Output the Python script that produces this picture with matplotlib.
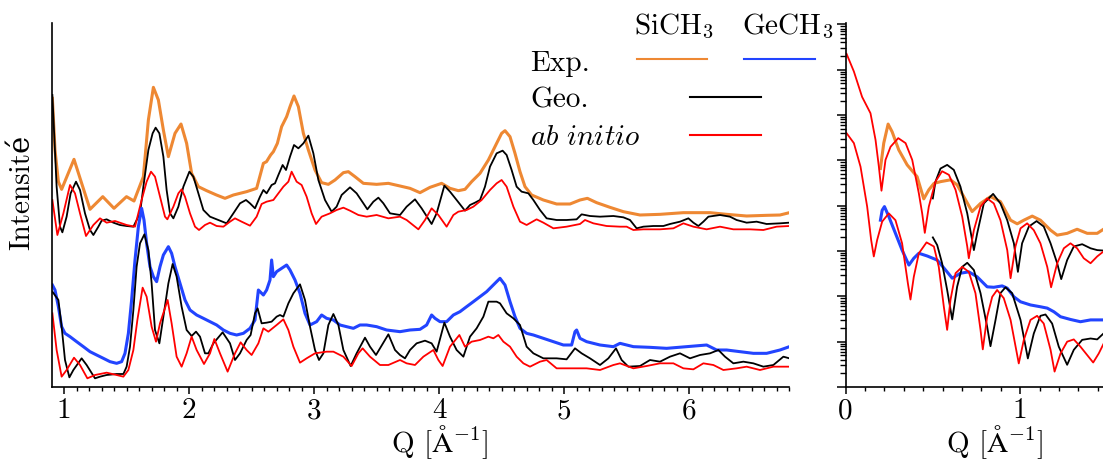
import numpy as np
import matplotlib
matplotlib.use("Agg")
import matplotlib.pyplot as plt
from matplotlib.lines import Line2D
from matplotlib.ticker import MultipleLocator, LogLocator, NullFormatter

plt.rcParams['font.family'] = ['cmr10', 'DejaVu Serif']
plt.rcParams['mathtext.fontset'] = 'cm'
plt.rcParams['axes.unicode_minus'] = False
FS = 21
plt.rcParams['font.size'] = FS

ORANGE = '#EE8833'
BLUE = '#2244FF'
RED = '#FF0000'

# ---- grand Q : intensites decalees (unites arbitraires) ----
si_exp_q = [0.907, 0.928, 0.955, 0.981, 1.08, 1.208, 1.31, 1.40, 1.50, 1.56, 1.635, 1.675, 1.715, 1.755,
            1.795, 1.835, 1.888, 1.936, 1.981, 2.021, 2.075, 2.141, 2.22, 2.288, 2.355, 2.461, 2.541, 2.595,
            2.62, 2.653, 2.675, 2.707, 2.741, 2.781, 2.808, 2.84, 2.875, 2.915, 2.955, 3.008, 3.061, 3.115,
            3.168, 3.235, 3.275, 3.328, 3.395, 3.501, 3.595, 3.688, 3.768, 3.848, 3.928, 4.021, 4.088, 4.155,
            4.208, 4.261, 4.328, 4.395, 4.461, 4.501, 4.528, 4.568, 4.608, 4.648, 4.688, 4.741, 4.835, 4.941,
            5.048, 5.128, 5.187, 5.261, 5.368, 5.475, 5.608, 5.768, 5.955, 6.168, 6.301, 6.461, 6.621, 6.728, 6.803]
si_exp_i = [86.6, 71.1, 61.6, 59.3, 68.3, 53.3, 57.1, 53.6, 57.1, 55.8, 63.1, 80.1, 89.9, 86.1,
            77.1, 69.1, 76.1, 78.9, 73.1, 64.1, 60.1, 58.9, 57.6, 56.6, 57.6, 58.6, 59.6, 67.1,
            67.6, 69.6, 70.6, 73.1, 78.1, 81.1, 84.1, 87.3, 84.1, 76.1, 71.1, 65.1, 61.3, 60.8,
            62.1, 64.3, 64.6, 63.1, 61.1, 60.8, 61.1, 60.3, 59.6, 58.3, 59.9, 61.1, 59.6, 58.9,
            59.3, 61.6, 64.1, 68.1, 73.1, 76.1, 76.9, 75.1, 70.1, 64.6, 60.1, 57.6, 56.1, 54.9,
            54.9, 56.1, 56.6, 55.3, 53.9, 52.6, 51.6, 51.8, 52.3, 52.3, 51.8, 51.3, 51.5, 51.6, 52.3]

si_geo_q = [0.907, 0.941, 0.968, 0.987, 1.021, 1.053, 1.096, 1.128, 1.168, 1.208, 1.235, 1.275, 1.301, 1.341,
            1.395, 1.448, 1.501, 1.555, 1.608, 1.635, 1.675, 1.709, 1.733, 1.763, 1.795, 1.821, 1.848, 1.875,
            1.915, 1.955, 2.003, 2.035, 2.075, 2.115, 2.168, 2.248, 2.301, 2.355, 2.408, 2.456, 2.488, 2.528,
            2.568, 2.595, 2.621, 2.661, 2.688, 2.715, 2.749, 2.776, 2.808, 2.84, 2.875, 2.915, 2.955, 2.995,
            3.035, 3.088, 3.141, 3.181, 3.221, 3.288, 3.341, 3.395, 3.427, 3.475, 3.515, 3.555, 3.608, 3.688,
            3.741, 3.808, 3.861, 3.941, 3.981, 4.043, 4.088, 4.141, 4.208, 4.248, 4.288, 4.328, 4.368, 4.408,
            4.461, 4.509, 4.541, 4.581, 4.621, 4.661, 4.715, 4.755, 4.808, 4.861, 4.941, 5.021, 5.101, 5.141,
            5.208, 5.288, 5.395, 5.475, 5.528, 5.581, 5.635, 5.715, 5.795, 5.848, 5.928, 5.995, 6.035, 6.075,
            6.115, 6.155, 6.248, 6.328, 6.381, 6.461, 6.541, 6.621, 6.728, 6.803]
si_geo_i = [87.6, 60.1, 48.1, 46.4, 51.1, 58.1, 61.6, 59.1, 52.1, 47.1, 45.6, 48.1, 49.9, 50.3,
            49.3, 48.6, 48.3, 48.1, 52.1, 60.1, 71.1, 76.1, 77.8, 76.1, 69.1, 59.1, 52.1, 50.6,
            54.1, 60.1, 64.6, 63.1, 58.1, 53.1, 51.1, 49.9, 49.1, 52.1, 55.1, 56.1, 55.1, 53.6,
            57.1, 59.1, 58.1, 60.6, 61.1, 63.6, 66.6, 65.1, 69.1, 72.6, 71.6, 73.1, 75.4, 70.1,
            62.1, 56.1, 52.6, 54.1, 57.6, 59.9, 58.1, 55.1, 53.3, 55.6, 56.8, 55.1, 52.1, 51.6,
            54.1, 56.3, 53.6, 48.9, 52.1, 60.4, 58.6, 56.1, 52.9, 54.6, 55.3, 56.1, 60.1, 66.1,
            70.1, 70.9, 69.6, 65.1, 60.1, 58.6, 58.1, 56.1, 53.1, 50.6, 50.1, 50.1, 50.3, 51.8,
            51.3, 51.1, 51.3, 50.9, 50.1, 47.6, 48.1, 48.3, 48.3, 48.9, 49.6, 50.6, 49.3, 48.3,
            49.6, 51.1, 51.6, 51.1, 50.1, 49.3, 49.6, 48.9, 49.1, 49.3]

si_abi_q = [0.907, 0.947, 0.995, 1.048, 1.088, 1.128, 1.176, 1.235, 1.288, 1.341, 1.408, 1.501, 1.568, 1.621,
            1.661, 1.696, 1.728, 1.768, 1.808, 1.827, 1.875, 1.915, 1.941, 1.968, 2.008, 2.048, 2.080, 2.128,
            2.168, 2.221, 2.275, 2.328, 2.368, 2.421, 2.488, 2.541, 2.581, 2.621, 2.675, 2.715, 2.755, 2.795,
            2.821, 2.861, 2.901, 2.941, 2.981, 3.016, 3.061, 3.128, 3.181, 3.235, 3.288, 3.355, 3.421, 3.501,
            3.595, 3.688, 3.741, 3.835, 3.888, 3.941, 3.995, 4.061, 4.115, 4.155, 4.221, 4.275, 4.341, 4.408,
            4.461, 4.501, 4.541, 4.595, 4.648, 4.701, 4.781, 4.835, 4.915, 5.021, 5.128, 5.168, 5.235, 5.341,
            5.448, 5.501, 5.555, 5.635, 5.768, 5.875, 5.955, 6.035, 6.141, 6.248, 6.355, 6.488, 6.595, 6.701, 6.803]
si_abi_i = [56.1, 45.6, 52.1, 60.6, 58.1, 52.1, 45.3, 48.6, 50.6, 49.3, 49.8, 48.6, 48.1, 56.1,
            61.6, 64.6, 63.1, 57.1, 51.1, 50.3, 54.1, 58.1, 59.3, 57.1, 52.1, 48.1, 47.1, 48.6,
            49.3, 48.3, 48.1, 49.6, 50.6, 49.6, 48.4, 51.1, 54.9, 55.6, 56.1, 58.1, 60.1, 61.6,
            64.6, 61.6, 60.6, 57.1, 52.1, 48.9, 51.1, 52.1, 53.1, 53.8, 52.9, 51.6, 51.1, 51.6,
            50.6, 51.1, 50.1, 47.3, 50.1, 53.6, 51.6, 48.1, 51.6, 52.6, 53.1, 54.1, 56.1, 59.1,
            61.1, 62.1, 60.1, 54.1, 49.6, 48.6, 50.3, 49.3, 47.6, 48.1, 48.9, 50.1, 49.1, 48.3,
            48.1, 48.1, 47.1, 47.3, 47.3, 47.6, 49.1, 48.1, 47.3, 48.1, 47.3, 47.3, 47.1, 48.1, 48.3]

ge_exp_q = [0.907, 0.928, 0.955, 0.981, 1.008, 1.048, 1.101, 1.155, 1.208, 1.261, 1.315, 1.368, 1.421, 1.461,
            1.488, 1.515, 1.541, 1.568, 1.595, 1.621, 1.640, 1.661, 1.688, 1.715, 1.741, 1.768, 1.795, 1.835,
            1.861, 1.888, 1.928, 1.968, 2.008, 2.061, 2.115, 2.168, 2.221, 2.275, 2.328, 2.381, 2.435, 2.488,
            2.528, 2.555, 2.595, 2.621, 2.648, 2.661, 2.675, 2.701, 2.741, 2.781, 2.808, 2.848, 2.888, 2.928,
            2.968, 3.021, 3.061, 3.101, 3.155, 3.208, 3.261, 3.315, 3.368, 3.421, 3.501, 3.581, 3.688, 3.768,
            3.848, 3.901, 3.941, 3.968, 4.008, 4.061, 4.115, 4.168, 4.221, 4.275, 4.328, 4.381, 4.421, 4.461,
            4.488, 4.528, 4.568, 4.608, 4.648, 4.701, 4.755, 4.835, 4.915, 4.995, 5.061, 5.088, 5.101, 5.128,
            5.181, 5.288, 5.395, 5.448, 5.555, 5.688, 5.821, 5.981, 6.141, 6.221, 6.301, 6.408, 6.515, 6.621,
            6.728, 6.803]
ge_exp_i = [30.6, 29.1, 24.1, 18.1, 16.1, 15.1, 13.6, 12.1, 10.6, 9.6, 8.6, 7.6, 7.1, 7.6,
            10.1, 16.1, 26.1, 38.1, 48.1, 53.6, 50.1, 43.1, 36.1, 33.1, 31.6, 36.1, 39.6, 42.1,
            40.1, 36.1, 31.1, 26.1, 23.1, 21.6, 20.6, 19.6, 18.6, 17.1, 16.1, 15.6, 16.1, 17.6,
            20.1, 29.1, 27.6, 29.1, 32.1, 38.1, 33.1, 34.6, 35.6, 36.6, 35.1, 32.1, 28.1, 22.1,
            18.6, 19.6, 21.6, 20.6, 20.1, 18.6, 18.1, 17.6, 18.6, 18.6, 18.1, 17.1, 16.6, 17.1,
            17.3, 18.6, 21.6, 20.6, 19.6, 19.6, 21.6, 22.6, 24.1, 25.6, 27.1, 28.6, 30.1, 31.6,
            32.6, 30.6, 25.6, 21.1, 17.6, 16.1, 15.6, 14.6, 13.6, 12.6, 12.6, 16.6, 17.1, 14.6,
            13.6, 12.6, 12.1, 13.1, 12.1, 11.9, 11.6, 12.1, 12.6, 11.1, 11.1, 10.6, 10.1, 10.1,
            11.1, 12.1]

ge_geo_q = [0.907, 0.955, 0.981, 1.008, 1.043, 1.075, 1.141, 1.181, 1.248, 1.288, 1.341, 1.421, 1.475, 1.501,
            1.528, 1.555, 1.581, 1.608, 1.643, 1.675, 1.701, 1.728, 1.763, 1.795, 1.835, 1.869, 1.901, 1.941,
            1.981, 2.021, 2.056, 2.088, 2.128, 2.155, 2.195, 2.269, 2.328, 2.368, 2.408, 2.461, 2.493, 2.528,
            2.549, 2.581, 2.621, 2.661, 2.701, 2.728, 2.755, 2.795, 2.835, 2.888, 2.928, 2.968, 3.008, 3.040,
            3.075, 3.115, 3.155, 3.195, 3.235, 3.293, 3.341, 3.408, 3.448, 3.496, 3.595, 3.648, 3.688, 3.728,
            3.768, 3.821, 3.888, 3.941, 3.981, 4.043, 4.088, 4.141, 4.195, 4.248, 4.301, 4.355, 4.395, 4.461,
            4.488, 4.541, 4.595, 4.648, 4.701, 4.755, 4.835, 4.941, 5.021, 5.088, 5.141, 5.208, 5.288, 5.355,
            5.416, 5.461, 5.515, 5.608, 5.688, 5.768, 5.848, 5.928, 6.008, 6.088, 6.168, 6.235, 6.288, 6.355,
            6.435, 6.515, 6.595, 6.675, 6.755, 6.803]
ge_geo_i = [28.6, 26.1, 18.1, 8.1, 2.9, 5.1, 8.6, 6.6, 2.6, 3.1, 3.6, 3.9, 3.9, 6.1,
            12.1, 23.1, 36.1, 43.1, 45.8, 41.1, 31.1, 17.1, 13.1, 21.1, 31.1, 36.9, 33.1, 24.1,
            17.1, 15.3, 16.6, 15.1, 10.1, 10.1, 13.1, 16.4, 13.1, 8.1, 10.1, 14.1, 15.6, 22.1,
            23.6, 19.1, 19.3, 19.6, 21.1, 21.6, 21.1, 25.1, 28.1, 30.8, 26.1, 18.1, 11.1, 8.1,
            10.1, 18.6, 21.9, 18.6, 11.1, 6.3, 10.1, 14.8, 12.1, 9.6, 15.8, 11.1, 9.6, 8.6,
            11.1, 13.1, 13.9, 13.1, 10.6, 19.3, 15.1, 11.1, 9.1, 15.1, 17.6, 21.1, 25.6, 25.6,
            25.1, 22.1, 20.6, 18.6, 12.1, 10.1, 8.6, 8.6, 8.3, 11.6, 10.1, 8.6, 6.6, 8.6,
            11.6, 8.1, 6.1, 6.3, 8.1, 7.6, 9.1, 10.1, 8.6, 9.6, 10.1, 11.1, 9.1, 7.1,
            7.6, 7.1, 6.1, 6.6, 9.1, 8.6]

ge_abi_q = [0.907, 0.941, 0.981, 1.021, 1.080, 1.128, 1.187, 1.248, 1.341, 1.421, 1.475, 1.515, 1.555, 1.587,
            1.629, 1.661, 1.701, 1.736, 1.768, 1.829, 1.861, 1.901, 1.941, 1.981, 2.021, 2.061, 2.120, 2.168,
            2.203, 2.248, 2.309, 2.368, 2.413, 2.461, 2.501, 2.555, 2.595, 2.635, 2.701, 2.755, 2.795, 2.835,
            2.888, 2.941, 3.008, 3.101, 3.155, 3.235, 3.301, 3.355, 3.389, 3.448, 3.528, 3.595, 3.688, 3.741,
            3.808, 3.875, 3.955, 3.995, 4.029, 4.088, 4.163, 4.208, 4.261, 4.328, 4.395, 4.435, 4.475, 4.515,
            4.568, 4.621, 4.675, 4.728, 4.808, 4.861, 4.941, 5.075, 5.181, 5.288, 5.395, 5.448, 5.555, 5.661,
            5.768, 5.875, 5.955, 6.035, 6.115, 6.195, 6.275, 6.381, 6.461, 6.568, 6.675, 6.803]
ge_abi_i = [22.1, 11.1, 3.1, 5.1, 8.8, 6.6, 2.6, 3.6, 4.3, 3.6, 3.1, 5.1, 11.1, 20.1,
            29.8, 27.1, 18.1, 13.6, 19.1, 26.1, 19.1, 9.1, 6.1, 10.1, 15.1, 11.1, 6.9, 10.1,
            14.4, 10.1, 4.6, 10.1, 13.4, 11.1, 9.6, 13.1, 17.6, 16.6, 18.6, 20.3, 17.1, 12.1,
            7.3, 8.6, 10.1, 10.6, 10.6, 9.1, 6.3, 10.1, 11.6, 9.1, 6.6, 6.6, 8.1, 7.1,
            6.6, 9.1, 11.1, 8.1, 6.3, 12.1, 15.6, 12.1, 13.6, 14.1, 15.1, 14.6, 15.6, 13.6,
            12.1, 9.1, 7.1, 6.1, 7.6, 8.1, 5.6, 5.6, 5.6, 5.1, 6.6, 7.1, 5.6, 6.3,
            7.1, 7.1, 5.6, 5.3, 7.1, 6.6, 5.1, 5.6, 6.1, 5.1, 6.1, 6.1]

# ---- petit Q : log10 de l'intensite ----
si_abi_lq = [0.006, 0.048, 0.095, 0.143, 0.172, 0.191, 0.206, 0.229, 0.258, 0.302, 0.344, 0.382, 0.420, 0.439,
             0.454, 0.477, 0.515, 0.553, 0.592, 0.630, 0.668, 0.697, 0.706, 0.735, 0.773, 0.811, 0.849, 0.887,
             0.926, 0.945, 0.973, 1.002, 1.040, 1.078, 1.116, 1.155, 1.177, 1.212, 1.250, 1.288, 1.326, 1.364,
             1.403, 1.441, 1.477]
si_abi_llog = [7.35, 6.96, 6.40, 6.04, 5.45, 4.86, 4.33, 5.01, 5.30, 5.49, 5.38, 5.01, 4.27, 3.83,
               3.40, 3.98, 4.53, 4.76, 4.68, 4.35, 3.76, 3.10, 2.84, 3.46, 3.98, 4.16, 4.05, 3.68,
               3.02, 2.40, 3.10, 3.50, 3.61, 3.46, 3.17, 2.65, 2.20, 2.73, 3.06, 3.17, 3.06, 2.84,
               2.73, 2.88, 2.99]
si_geo_lq = [0.500, 0.515, 0.544, 0.582, 0.620, 0.658, 0.697, 0.725, 0.735, 0.754, 0.792, 0.845, 0.887, 0.926,
             0.964, 0.987, 1.011, 1.050, 1.094, 1.135, 1.174, 1.212, 1.235, 1.269, 1.307, 1.355, 1.403, 1.441, 1.477]
si_geo_llog = [4.16, 4.53, 4.82, 4.90, 4.79, 4.42, 3.83, 3.24, 3.02, 3.39, 4.05, 4.26, 4.05, 3.68,
               3.17, 2.54, 3.17, 3.54, 3.66, 3.54, 3.17, 2.73, 2.38, 2.80, 3.10, 3.15, 3.06, 3.02, 3.01]
si_exp_lq = [0.200, 0.219, 0.244, 0.267, 0.305, 0.353, 0.410, 0.448, 0.477, 0.506, 0.544, 0.601, 0.639, 0.677,
             0.725, 0.773, 0.830, 0.887, 0.945, 0.983, 1.021, 1.069, 1.116, 1.174, 1.212, 1.269, 1.326, 1.384,
             1.441, 1.477]
si_exp_llog = [4.82, 5.38, 5.80, 5.63, 5.23, 4.90, 4.64, 4.15, 4.35, 4.49, 4.53, 4.57, 4.46, 4.20,
               3.87, 4.05, 4.20, 4.09, 3.68, 3.60, 3.68, 3.77, 3.68, 3.46, 3.35, 3.39, 3.48, 3.39,
               3.39, 3.48]
ge_abi_lq = [0.006, 0.048, 0.086, 0.124, 0.147, 0.162, 0.181, 0.210, 0.248, 0.286, 0.324, 0.357, 0.372, 0.391,
             0.420, 0.464, 0.506, 0.534, 0.563, 0.582, 0.601, 0.630, 0.668, 0.706, 0.744, 0.773, 0.786, 0.811,
             0.840, 0.868, 0.906, 0.945, 0.992, 1.021, 1.059, 1.097, 1.135, 1.174, 1.197, 1.231, 1.269, 1.307,
             1.345, 1.418, 1.450, 1.477]
ge_abi_llog = [5.60, 5.38, 4.86, 3.98, 3.24, 2.88, 3.24, 3.65, 3.83, 3.68, 3.17, 2.29, 1.93, 2.43,
               2.95, 3.19, 3.10, 2.65, 1.77, 1.26, 1.92, 2.51, 2.65, 2.54, 2.07, 1.26, 0.83, 1.55,
               1.99, 2.14, 1.96, 1.48, 0.52, 1.04, 1.48, 1.57, 1.40, 0.82, 0.34, 0.74, 1.00, 1.05,
               0.89, 0.54, 0.74, 0.95]
ge_geo_lq = [0.500, 0.525, 0.553, 0.582, 0.611, 0.639, 0.668, 0.697, 0.735, 0.773, 0.811, 0.830, 0.859, 0.887,
             0.916, 0.954, 1.002, 1.044, 1.078, 1.116, 1.145, 1.183, 1.221, 1.269, 1.307, 1.355, 1.403, 1.441, 1.477]
ge_geo_llog = [3.30, 3.13, 2.73, 2.14, 1.49, 2.21, 2.65, 2.74, 2.58, 2.07, 1.33, 0.90, 1.48, 2.07,
               2.20, 2.07, 1.48, 0.63, 1.18, 1.57, 1.60, 1.40, 0.89, 0.49, 0.82, 1.04, 1.07, 1.05, 1.18]
ge_exp_lq = [0.200, 0.210, 0.223, 0.248, 0.286, 0.324, 0.363, 0.391, 0.420, 0.468, 0.525, 0.573, 0.611, 0.658,
             0.706, 0.754, 0.811, 0.849, 0.897, 0.926, 0.964, 1.002, 1.059, 1.116, 1.155, 1.193, 1.231, 1.288,
             1.345, 1.403, 1.477]
ge_exp_llog = [3.68, 3.90, 3.98, 3.76, 3.39, 3.02, 2.69, 2.84, 2.95, 2.89, 2.80, 2.58, 2.40, 2.51,
               2.54, 2.43, 2.21, 2.20, 2.23, 2.18, 1.99, 1.88, 1.81, 1.77, 1.74, 1.66, 1.55, 1.49,
               1.44, 1.48, 1.48]

fig = plt.figure(figsize=(11.03, 4.59), dpi=100)
ax1 = fig.add_axes([52 / 1103, 72 / 459, 737 / 1103, 364 / 459])
ax2 = fig.add_axes([845.5 / 1103, 72 / 459, 262 / 1103, 364 / 459])

lw = 1.3
lw_exp = 2.2
ax1.plot(si_exp_q, si_exp_i, color=ORANGE, lw=lw_exp)
ax1.plot(si_geo_q, si_geo_i, color='black', lw=lw)
ax1.plot(si_abi_q, si_abi_i, color=RED, lw=lw)
ax1.plot(ge_exp_q, ge_exp_i, color=BLUE, lw=lw_exp)
ax1.plot(ge_geo_q, ge_geo_i, color='black', lw=lw)
ax1.plot(ge_abi_q, ge_abi_i, color=RED, lw=lw)

ax2.plot(si_exp_lq, np.power(10, si_exp_llog), color=ORANGE, lw=lw_exp)
ax2.plot(si_geo_lq, np.power(10, si_geo_llog), color='black', lw=lw)
ax2.plot(si_abi_lq, np.power(10, si_abi_llog), color=RED, lw=lw)
ax2.plot(ge_exp_lq, np.power(10, ge_exp_llog), color=BLUE, lw=lw_exp)
ax2.plot(ge_geo_lq, np.power(10, ge_geo_llog), color='black', lw=lw)
ax2.plot(ge_abi_lq, np.power(10, ge_abi_llog), color=RED, lw=lw)

ax1.set_xlim(0.904, 6.8)
ax1.set_ylim(0, 109.2)
ax1.xaxis.set_major_locator(MultipleLocator(1))
ax1.xaxis.set_minor_locator(MultipleLocator(0.1))
ax1.set_yticks([])
for s in ['top', 'right']:
    ax1.spines[s].set_visible(False)

ax2.set_yscale('log')
ax2.set_xlim(0, 1.5)
ax2.set_ylim(1, 10 ** 8.03)
ax2.xaxis.set_major_locator(MultipleLocator(1))
ax2.xaxis.set_minor_locator(MultipleLocator(1 / 9))
ax2.yaxis.set_major_locator(LogLocator(base=10, numticks=20))
ax2.yaxis.set_minor_locator(LogLocator(base=10, subs=np.arange(2, 10), numticks=20))
ax2.yaxis.set_major_formatter(NullFormatter())
ax2.yaxis.set_minor_formatter(NullFormatter())
for s in ['top', 'right']:
    ax2.spines[s].set_visible(False)

for ax in (ax1, ax2):
    for s in ['left', 'bottom']:
        ax.spines[s].set_linewidth(1.2)
    ax.tick_params(which='major', direction='out', length=5, width=1.1, pad=3, labelsize=FS)
    ax.tick_params(which='minor', direction='out', length=3, width=1.0)
ax2.tick_params(axis='y', which='major', length=6.5)
ax2.tick_params(axis='y', which='minor', length=4)

# etiquettes
fig.text(22 / 1103, 1 - 192 / 459, 'Intensité', rotation=90, ha='center', va='center', fontsize=FS)
fig.text(440 / 1103, 1 - 452 / 459, r'Q [$\mathrm{\AA}^{-1}$]', ha='center', va='baseline', fontsize=FS)
fig.text(995 / 1103, 1 - 452 / 459, r'Q [$\mathrm{\AA}^{-1}$]', ha='center', va='baseline', fontsize=FS)

# legende faite a la main
fig.text(674 / 1103, 1 - 34 / 459, r'SiCH$_3$', ha='center', va='baseline', fontsize=FS)
fig.text(788 / 1103, 1 - 34 / 459, r'GeCH$_3$', ha='center', va='baseline', fontsize=FS)
fig.text(530 / 1103, 1 - 71 / 459, 'Exp.', ha='left', va='baseline', fontsize=FS)
fig.text(530 / 1103, 1 - 108 / 459, 'Geo.', ha='left', va='baseline', fontsize=FS)
fig.text(530 / 1103, 1 - 145 / 459, r'$\mathit{ab\ initio}$', ha='left', va='baseline', fontsize=FS)
leg_lines = [((637, 707), 59, ORANGE), ((744, 815), 59, BLUE),
             ((690, 761), 97, 'black'), ((690, 761), 135, RED)]
for (x0, x1), y, c in leg_lines:
    fig.add_artist(Line2D([x0 / 1103, x1 / 1103], [1 - y / 459, 1 - y / 459],
                          transform=fig.transFigure, color=c, lw=1.5))

fig.savefig('out.png', dpi=100)
